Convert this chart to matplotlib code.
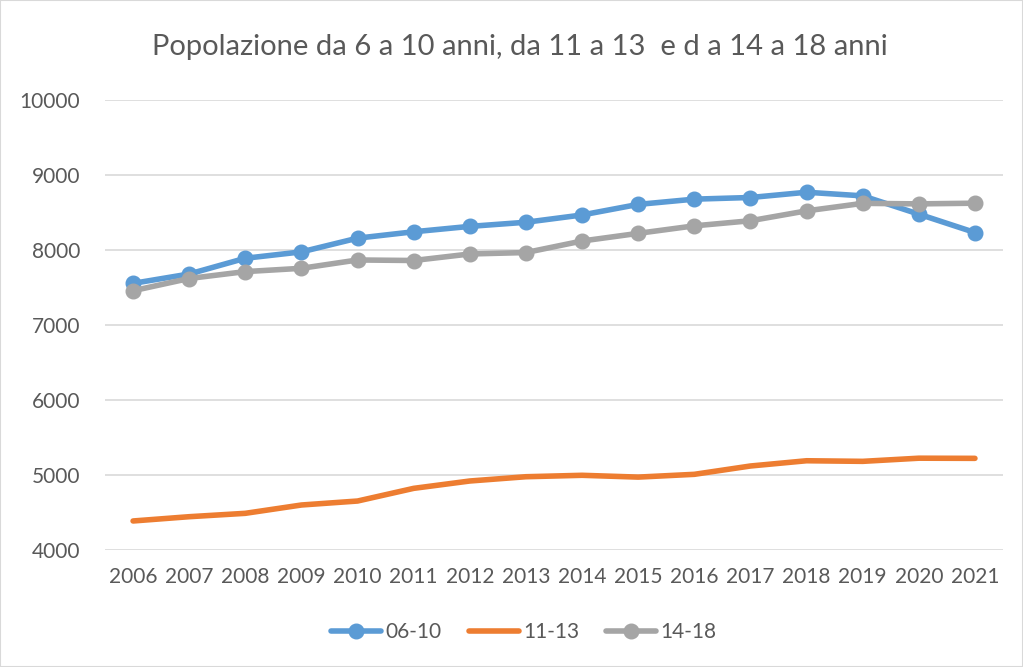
import matplotlib.pyplot as plt

plt.rcParams['font.family'] = ['Lato', 'DejaVu Sans']

anni = ['2006', '2007', '2008', '2009', '2010', '2011', '2012', '2013',
        '2014', '2015', '2016', '2017', '2018', '2019', '2020', '2021']
eta_06_10 = [7555, 7680, 7890, 7975, 8158, 8243, 8315, 8370,
             8467, 8608, 8678, 8700, 8770, 8722, 8478, 8233]
eta_11_13 = [4387, 4444, 4489, 4600, 4653, 4822, 4920, 4977,
             4996, 4972, 5009, 5120, 5190, 5182, 5224, 5222]
eta_14_18 = [7457, 7620, 7712, 7756, 7867, 7860, 7947, 7966,
             8120, 8222, 8322, 8390, 8522, 8622, 8615, 8624]

fig = plt.figure(figsize=(10.23, 6.67), dpi=100)
ax = fig.add_axes([105 / 1023, 1 - 550 / 667, 898 / 1023, 450 / 667])

x = range(len(anni))
ax.plot(x, eta_06_10, color='#5B9BD5', lw=4, marker='o', ms=10.5, label='06-10',
        solid_capstyle='round')
ax.plot(x, eta_11_13, color='#ED7D31', lw=4, label='11-13',
        solid_capstyle='round', solid_joinstyle='round')
ax.plot(x, eta_14_18, color='#A5A5A5', lw=4, marker='o', ms=10.5, label='14-18',
        solid_capstyle='round')

ax.set_xlim(-0.5, 15.5)
ax.set_ylim(4000, 10000)
ax.set_yticks(range(4000, 10001, 1000))
ax.set_xticks(list(x))
ax.set_xticklabels(anni)
ax.grid(axis='y', color='#D9D9D9', lw=1.2)
ax.set_axisbelow(True)
for s in ax.spines.values():
    s.set_visible(False)
ax.tick_params(length=0, labelsize=15, colors='#595959')
ax.tick_params(axis='y', pad=18)
ax.tick_params(axis='x', pad=12)

fig.text(0.508, 1 - 47 / 667, 'Popolazione da 6 a 10 anni, da 11 a 13  e d a 14 a 18 anni',
         ha='center', va='center', fontsize=21, color='#595959')

fig.legend(loc='center', bbox_to_anchor=(0.512, 1 - 632 / 667), ncol=3, frameon=False,
           fontsize=15, labelcolor='#595959', handlelength=2.4, columnspacing=1.3,
           handletextpad=0.2)

fig.add_artist(plt.Rectangle((0, 0), 1, 1, transform=fig.transFigure, fill=False,
                             edgecolor='#D9D9D9', lw=1.5))

fig.savefig('out.png', dpi=100)
